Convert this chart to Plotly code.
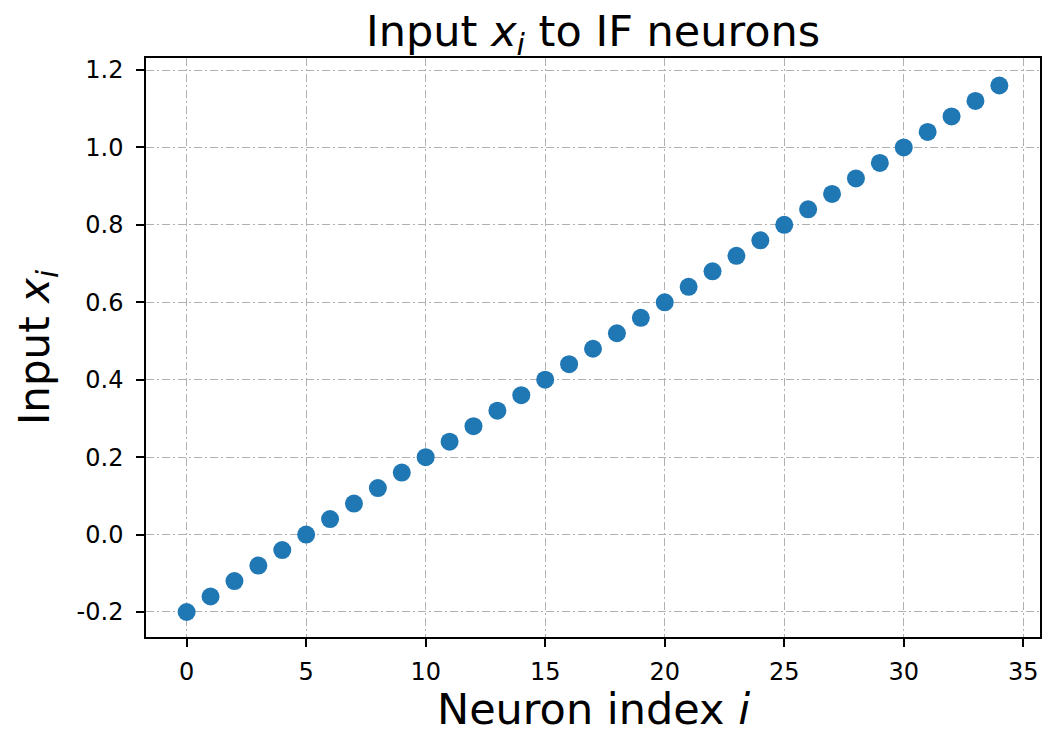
import plotly.graph_objects as go

# Neuron indices and the input value fed to each IF neuron
neuron_index = list(range(35))
input_x = [-0.20, -0.16, -0.12, -0.08, -0.04, 0.00, 0.04, 0.08, 0.12, 0.16,
           0.20, 0.24, 0.28, 0.32, 0.36, 0.40, 0.44, 0.48, 0.52, 0.56,
           0.60, 0.64, 0.68, 0.72, 0.76, 0.80, 0.84, 0.88, 0.92, 0.96,
           1.00, 1.04, 1.08, 1.12, 1.16]

x_ticks = [0, 5, 10, 15, 20, 25, 30, 35]
y_ticks = [-0.2, 0.0, 0.2, 0.4, 0.6, 0.8, 1.0, 1.2]
y_tick_labels = ["-0.2", "0.0", "0.2", "0.4", "0.6", "0.8", "1.0", "1.2"]

FONT = "DejaVu Sans"

fig = go.Figure(go.Scatter(
    x=neuron_index, y=input_x, mode="markers",
    marker=dict(color="#1f77b4", size=18, line=dict(width=0)),
))

axis_common = dict(
    showline=True, linecolor="black", linewidth=1.5, mirror=True,
    ticks="outside", ticklen=8, tickwidth=1.5, tickcolor="black",
    showgrid=True, gridcolor="#b0b0b0", gridwidth=1.2,
    griddash="8px,3px,2px,3px", zeroline=False, automargin=False,
    tickfont=dict(family=FONT, size=24, color="black"),
)

fig.update_xaxes(
    range=[-1.7, 35.7], tickvals=x_ticks, ticklabelstandoff=4,
    **axis_common,
)
fig.update_yaxes(
    range=[-0.2646, 1.231], tickvals=y_ticks, ticktext=y_tick_labels,
    ticklabelstandoff=8,
    title=dict(text="Input <i>x<sub>i</sub></i>",
               font=dict(family=FONT, size=42, color="black"), standoff=14),
    **axis_common,
)

# x-axis caption placed below the tick labels
fig.add_annotation(
    text="Neuron index <i>i</i>", xref="paper", yref="paper",
    x=0.5, y=-0.124, xanchor="center", yanchor="middle", showarrow=False,
    borderpad=0, font=dict(family=FONT, size=43, color="black"),
)

fig.update_layout(
    width=1048, height=731,
    margin=dict(l=146, r=8, t=58, b=94),
    paper_bgcolor="white", plot_bgcolor="white",
    showlegend=False,
    title=dict(text="Input <i>x<sub>i</sub></i> to IF neurons",
               font=dict(family=FONT, size=43, color="black"),
               x=0.566, xanchor="center", y=0.958, yanchor="middle"),
)

fig.write_html("out.html")
